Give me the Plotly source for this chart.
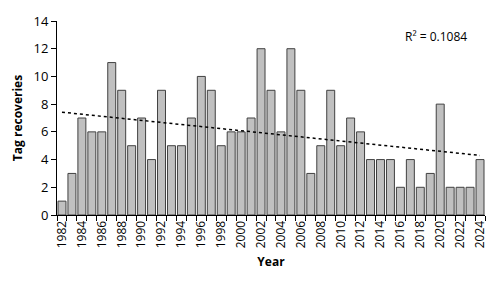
import numpy as np
import plotly.graph_objects as go

years = list(range(1982, 2025))
recoveries = [1, 3, 7, 6, 6, 11, 9, 5, 7, 4, 9, 5, 5, 7, 10, 9, 5, 6, 6, 7,
              12, 9, 6, 12, 9, 3, 5, 9, 5, 7, 6, 4, 4, 4, 2, 4, 2, 3, 8, 2,
              2, 2, 4]
r2_label = "R\u00b2 = 0.1084"
label_years = list(range(1982, 2025, 2))
y_ticks = list(range(0, 15, 2))

slope, intercept = np.polyfit(years, recoveries, 1)
trend_x = [years[0], years[-1]]
trend_y = [slope * x + intercept for x in trend_x]

font_fam = "Open Sans, Liberation Sans, sans-serif"

fig = go.Figure()
fig.add_trace(go.Bar(
    x=years, y=recoveries,
    marker=dict(color="#c0c0c0", line=dict(color="#404040", width=1)),
    showlegend=False,
))
fig.add_trace(go.Scatter(
    x=trend_x, y=trend_y, mode="lines",
    line=dict(color="black", width=1.5, dash="dot"),
    showlegend=False,
))
fig.add_annotation(
    x=1, y=1, xref="paper", yref="paper", xanchor="right", yanchor="top",
    text=r2_label, showarrow=False, xshift=-16, yshift=-5,
    font=dict(family=font_fam, size=12, color="black"),
)

fig.update_layout(
    width=500, height=283,
    margin=dict(l=57, r=12, t=13, b=68),
    plot_bgcolor="white", paper_bgcolor="white",
    bargap=0.2,
    font=dict(family=font_fam, size=12, color="black"),
    xaxis=dict(
        range=[1981.5, 2024.5],
        tickvals=label_years, ticktext=[str(y) for y in label_years],
        tickangle=-90, ticks="outside", ticklen=0,
        minor=dict(tick0=1981.5, dtick=1, ticks="outside", ticklen=5,
                   tickcolor="black", tickwidth=1),
        showline=True, linecolor="black", linewidth=1,
        showgrid=False, zeroline=False,
        tickfont=dict(size=12),
        title=dict(text="<b>Year</b>", font=dict(size=12), standoff=10),
    ),
    yaxis=dict(
        range=[0, 14], tickvals=y_ticks,
        ticks="outside", ticklen=5, tickcolor="black",
        showline=True, linecolor="black", linewidth=1,
        showgrid=False, zeroline=False,
        tickfont=dict(size=13),
        title=dict(text="<b>Tag recoveries</b>", font=dict(size=12), standoff=8),
    ),
)

fig.write_html("out.html")
